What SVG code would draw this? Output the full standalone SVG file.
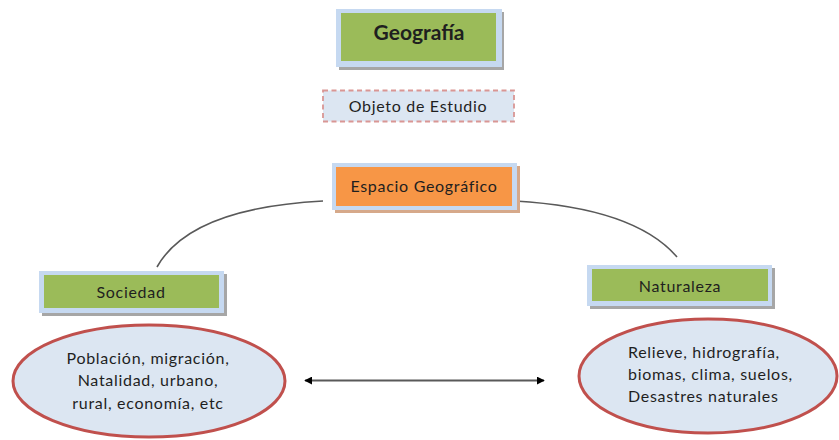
<svg xmlns="http://www.w3.org/2000/svg" width="839" height="440" viewBox="0 0 839 440">
<defs>
<style>
.t{font-family:Lato,"Open Sans","Liberation Sans",sans-serif;fill:#1f1f1f;font-size:16px;letter-spacing:0.7px}
.c{text-anchor:middle}
.shadow{fill:#a6a6a6}
.frame{fill:#c6d9f1}
.green{fill:#9bbb59}
.orange{fill:#f79646}
.ell{fill:#dce6f2;stroke:#c0504d;stroke-width:3}
.conn{fill:none;stroke:#595959;stroke-width:1.6}
</style>
<marker id="ah" viewBox="0 0 10 10" refX="9" refY="5" markerWidth="8" markerHeight="8" markerUnits="userSpaceOnUse" orient="auto-start-reverse">
<path d="M0,0 L10,5 L0,10 z" fill="#000"/>
</marker>
</defs>
<rect width="839" height="440" fill="#fff"/>
<g id="connectors">
<path class="conn" d="M157,267 Q190,208 323,201"/>
<path class="conn" d="M515,201 Q635,208 677,257"/>
<line x1="305" y1="380.5" x2="544" y2="380.5" stroke="#595959" stroke-width="2" marker-start="url(#ah)" marker-end="url(#ah)"/>
</g>
<g id="geografia">
<rect class="shadow" x="339" y="12" width="165" height="58"/>
<rect class="frame" x="336" y="9" width="166" height="58"/>
<rect class="green" x="341" y="13" width="155" height="48"/>
<text class="t c" x="419" y="40" style="font-size:21px;font-weight:bold;letter-spacing:0">Geografía</text>
</g>
<g id="objeto">
<rect x="323" y="90.5" width="191" height="31" fill="#dce6f2" stroke="#d99694" stroke-width="1.8" stroke-dasharray="5,3.5"/>
<text class="t c" x="418" y="111.5">Objeto de Estudio</text>
</g>
<g id="espacio">
<rect x="335" y="166" width="185" height="47" fill="#d6a98a"/>
<rect class="frame" x="332" y="163" width="185" height="47"/>
<rect class="orange" x="336" y="167" width="176" height="39"/>
<text class="t c" x="424" y="191.5">Espacio Geográfico</text>
</g>
<g id="sociedad">
<rect class="shadow" x="42" y="274" width="185" height="42"/>
<rect class="frame" x="39" y="271" width="185" height="42"/>
<rect class="green" x="44" y="275" width="175" height="33"/>
<text class="t c" x="131" y="297.5">Sociedad</text>
</g>
<g id="naturaleza">
<rect class="shadow" x="590" y="268" width="185" height="41"/>
<rect class="frame" x="587" y="265" width="185" height="41"/>
<rect class="green" x="592" y="269" width="176" height="32"/>
<text class="t c" x="680" y="291.5">Naturaleza</text>
</g>
<g id="sociedad-detalle">
<ellipse class="ell" cx="149" cy="381" rx="136" ry="56"/>
<text class="t c" x="148" y="363.5">Población, migración,</text>
<text class="t c" x="148" y="385.5">Natalidad, urbano,</text>
<text class="t c" x="148" y="408.5">rural, economía, etc</text>
</g>
<g id="naturaleza-detalle">
<ellipse class="ell" cx="708" cy="376" rx="129" ry="57"/>
<text class="t" x="628" y="357.5">Relieve, hidrografía,</text>
<text class="t" x="628" y="379.5">biomas, clima, suelos,</text>
<text class="t" x="628" y="401.5">Desastres naturales</text>
</g>
</svg>
